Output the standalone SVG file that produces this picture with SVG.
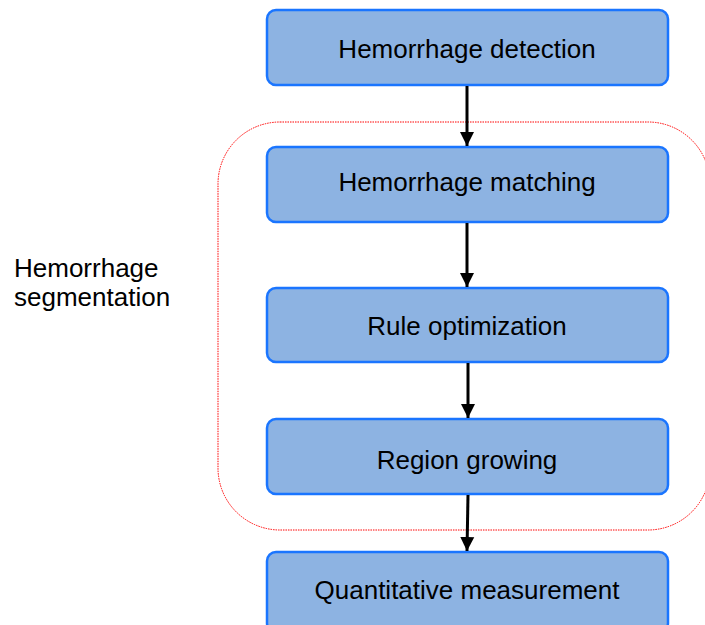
<svg xmlns="http://www.w3.org/2000/svg" width="705" height="625" viewBox="0 0 705 625">
<defs>
<style>
.box{fill:#8db3e2;stroke:#1a75ff;stroke-width:2.5}
.t{font-family:"Liberation Sans",Arial,sans-serif;font-size:26px;fill:#000}
.c{text-anchor:middle}
.conn line{stroke:#000;stroke-width:3}
</style>
<marker id="ah" markerWidth="14" markerHeight="16" refX="14" refY="7" orient="auto" markerUnits="userSpaceOnUse" viewBox="0 0 14 14">
<path d="M0,0 L14,7 L0,14 z" fill="#000"/>
</marker>
</defs>
<rect width="705" height="625" fill="#fff"/>
<g id="group-segmentation">
<rect x="218" y="122" width="492" height="408" rx="62" ry="62" fill="none" stroke="#ff0000" stroke-width="1" stroke-dasharray="1.5,1"/>
<text class="t" x="14" y="277">Hemorrhage</text>
<text class="t" x="14" y="306">segmentation</text>
</g>
<g id="n1"><rect class="box" x="267" y="10" width="401" height="75" rx="9"/><text class="t c" x="467" y="58">Hemorrhage detection</text></g>
<g id="n2"><rect class="box" x="267" y="147" width="401" height="75" rx="9"/><text class="t c" x="467" y="191">Hemorrhage matching</text></g>
<g id="n3"><rect class="box" x="267" y="288" width="401" height="74" rx="9"/><text class="t c" x="467" y="335">Rule optimization</text></g>
<g id="n4"><rect class="box" x="267" y="419" width="401" height="75" rx="9"/><text class="t c" x="467" y="469">Region growing</text></g>
<g id="n5"><rect class="box" x="267" y="552" width="401" height="80" rx="9"/><text class="t c" x="467" y="599">Quantitative measurement</text></g>
<g class="conn" id="connectors">
<line x1="467" y1="86" x2="467" y2="146" marker-end="url(#ah)"/>
<line x1="467" y1="223" x2="467" y2="287" marker-end="url(#ah)"/>
<line x1="468" y1="363" x2="468" y2="418" marker-end="url(#ah)"/>
<line x1="468" y1="495" x2="467" y2="551" marker-end="url(#ah)"/>
</g>
</svg>
